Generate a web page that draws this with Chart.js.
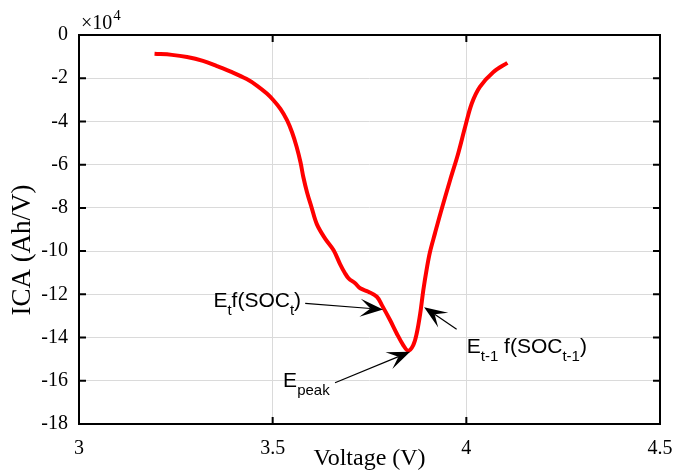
<!DOCTYPE html>
<html><head><meta charset="utf-8">
<script src="https://cdn.jsdelivr.net/npm/chart.js@4.4.1/dist/chart.umd.min.js"></script>
<style>html,body{margin:0;padding:0;background:#fff;}#wrap{width:673px;height:475px;}</style>
</head><body><div id="wrap"><canvas id="c" width="673" height="475"></canvas></div>
<script>
// ---- data (ICA in units of 10^4 Ah/V) ----
const voltage = [3.195,3.24,3.279,3.32,3.356,3.395,3.433,3.46,3.485,3.502,3.52,3.537,3.550,3.562,3.572,3.579,3.589,3.600,3.614,3.635,3.657,3.674,3.686,3.696,3.713,3.726,3.747,3.769,3.782,3.803,3.820,3.837,3.850,3.863,3.872,3.881,3.889,3.898,3.906,3.919,3.934,3.958,3.979,3.997,4.014,4.035,4.070,4.106];
const ica = [-0.87,-0.92,-1.02,-1.2,-1.44,-1.72,-2.04,-2.35,-2.71,-3.02,-3.42,-3.94,-4.5,-5.18,-5.9,-6.56,-7.3,-7.95,-8.75,-9.41,-9.95,-10.6,-11.0,-11.26,-11.49,-11.72,-11.88,-12.11,-12.50,-13.19,-13.80,-14.35,-14.61,-14.35,-13.80,-12.88,-11.80,-10.80,-10.05,-9.18,-8.2,-6.72,-5.48,-4.25,-3.17,-2.40,-1.71,-1.29];
const xTickValues = [3,3.5,4,4.5];
const xTickLabels = ['3','3.5','4','4.5'];
const yTickValues = [0,-2,-4,-6,-8,-10,-12,-14,-16,-18];
const yTickLabels = ['0','-2','-4','-6','-8','-10','-12','-14','-16','-18'];
const xTitle = 'Voltage (V)';
const yTitle = 'ICA (Ah/V)';
const exponentBase = '\u00d710';
const exponentPower = '4';

const annotations = [
  {segs:[['E',0],['t',1],['f(SOC',0],['t',1],[')',0]], tx:3.347, ty:-12.57, from:[3.584,-12.42], to:[3.785,-12.70]},
  {segs:[['E',0],['peak',1]], tx:3.527, ty:-16.27, from:[3.661,-16.09], to:[3.855,-14.66]},
  {segs:[['E',0],['t-1',1],[' f(SOC',0],['t-1',1],[')',0]], tx:4.001, ty:-14.73, from:[3.975,-13.61], to:[3.891,-12.60]}
];

const SERIF = '"Liberation Serif","Times New Roman",serif';
const SANS = '"Liberation Sans",Arial,sans-serif';

function drawArrow(ctx, x0, y0, x1, y1){
  const a = Math.atan2(y1-y0, x1-x0);
  const ux = Math.cos(a), uy = Math.sin(a), nx = -uy, ny = ux;
  const L = 23, W = 9, N = 0.55*L;
  ctx.strokeStyle = '#000'; ctx.lineWidth = 1.2;
  ctx.beginPath(); ctx.moveTo(x0,y0); ctx.lineTo(x1-N*ux, y1-N*uy); ctx.stroke();
  ctx.fillStyle = '#000';
  ctx.beginPath();
  ctx.moveTo(x1,y1);
  ctx.lineTo(x1-L*ux+W*nx, y1-L*uy+W*ny);
  ctx.lineTo(x1-N*ux, y1-N*uy);
  ctx.lineTo(x1-L*ux-W*nx, y1-L*uy-W*ny);
  ctx.closePath(); ctx.fill();
}

const framePlugin = {
  id:'frame',
  afterDraw(chart){
    const {ctx, chartArea:{left,right,top,bottom}, scales:{x,y}} = chart;
    ctx.save();
    ctx.strokeStyle='#000'; ctx.lineWidth=2;
    ctx.beginPath();
    xTickValues.forEach(v=>{const px=x.getPixelForValue(v);
      ctx.moveTo(px,bottom); ctx.lineTo(px,bottom-7);
      ctx.moveTo(px,top); ctx.lineTo(px,top+7);});
    yTickValues.forEach(v=>{const py=y.getPixelForValue(v);
      ctx.moveTo(left,py); ctx.lineTo(left+7,py);
      ctx.moveTo(right,py); ctx.lineTo(right-7,py);});
    ctx.stroke();
    ctx.lineWidth=2; ctx.strokeRect(left,top,right-left,bottom-top);
    ctx.fillStyle='#000'; ctx.textBaseline='alphabetic'; ctx.textAlign='left';
    ctx.font='20px '+SERIF;
    ctx.fillText(exponentBase, 81, 29);
    const w = ctx.measureText(exponentBase).width;
    ctx.font='15px '+SERIF;
    ctx.fillText(exponentPower, 81+w+1, 20);
    ctx.save();
    ctx.translate(23,250); ctx.rotate(-Math.PI/2);
    ctx.font='27px '+SERIF; ctx.textAlign='center'; ctx.textBaseline='middle';
    ctx.fillText(yTitle,0,0);
    ctx.restore();
    annotations.forEach(an=>{
      drawArrow(ctx, x.getPixelForValue(an.from[0]), y.getPixelForValue(an.from[1]),
                     x.getPixelForValue(an.to[0]), y.getPixelForValue(an.to[1]));
      let cx = x.getPixelForValue(an.tx); const by = y.getPixelForValue(an.ty);
      ctx.textAlign='left'; ctx.textBaseline='alphabetic'; ctx.fillStyle='#000';
      an.segs.forEach(([t,sub])=>{
        ctx.font = (sub?'15px ':'21px ')+SANS;
        ctx.fillText(t, cx, sub? by+8 : by);
        cx += ctx.measureText(t).width;
      });
    });
    ctx.restore();
  }
};

new Chart(document.getElementById('c'), {
  type:'line',
  data:{datasets:[{
    data: voltage.map((v,i)=>({x:v,y:ica[i]})),
    borderColor:'#ff0000', borderWidth:4, pointRadius:0, fill:false,
    tension:0.35, borderCapStyle:'butt', borderJoinStyle:'round'
  }]},
  options:{
    responsive:false, animation:false, devicePixelRatio:1,
    layout:{padding:{top:35,right:13,left:0,bottom:0}},
    plugins:{legend:{display:false}, tooltip:{enabled:false}},
    scales:{
      x:{type:'linear', min:3, max:4.5,
        afterBuildTicks(s){s.ticks = xTickValues.map(v=>({value:v}));},
        afterFit(s){s.height=51; s.paddingLeft=0; s.paddingRight=0;},
        ticks:{color:'#000', font:{family:SERIF,size:20}, padding:13, maxRotation:0, autoSkip:false,
          callback:(v)=>{const i=xTickValues.findIndex(t=>Math.abs(t-v)<1e-9); return i>=0?xTickLabels[i]:'';}},
        grid:{color:'#dadada', lineWidth:1, drawTicks:false},
        border:{display:false},
        title:{display:true, text:xTitle, color:'#000', font:{family:SERIF,size:24}, padding:{top:0,bottom:2}}
      },
      y:{type:'linear', min:-18, max:0,
        afterBuildTicks(s){s.ticks = yTickValues.slice().reverse().map(v=>({value:v}));},
        afterFit(s){s.width=79; s.paddingTop=0; s.paddingBottom=0;},
        ticks:{color:'#000', font:{family:SERIF,size:20}, padding:11, autoSkip:false,
          callback:(v)=>{const i=yTickValues.findIndex(t=>Math.abs(t-v)<1e-9); return i>=0?yTickLabels[i]:'';}},
        grid:{color:'#dadada', lineWidth:1, drawTicks:false},
        border:{display:false}
      }
    }
  },
  plugins:[framePlugin]
});
</script></body></html>
